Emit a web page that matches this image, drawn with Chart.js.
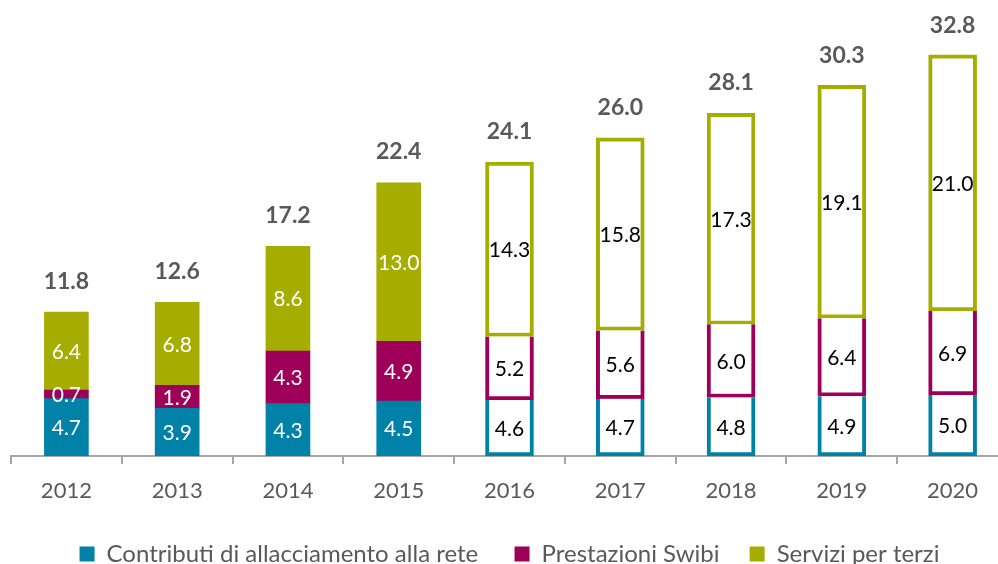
<!DOCTYPE html>
<html>
<head>
<meta charset="utf-8">
<script src="https://cdn.jsdelivr.net/npm/chart.js@4/dist/chart.umd.min.js"></script>
<style>
  html, body { margin: 0; padding: 0; background: #fff; overflow: hidden; }
  #wrap { width: 1009px; height: 581px; position: relative; }
</style>
</head>
<body>
<div id="wrap"><canvas id="stackChart"></canvas></div>
<script>
const years = ["2012", "2013", "2014", "2015", "2016", "2017", "2018", "2019", "2020"];
const contributi = [4.7, 3.9, 4.3, 4.5, 4.6, 4.7, 4.8, 4.9, 5.0];
const prestazioni = [0.7, 1.9, 4.3, 4.9, 5.2, 5.6, 6.0, 6.4, 6.9];
const servizi = [6.4, 6.8, 8.6, 13.0, 14.3, 15.8, 17.3, 19.1, 21.0];
const totals = [11.8, 12.6, 17.2, 22.4, 24.1, 26.0, 28.1, 30.3, 32.8];
const firstProjected = 4; // 2016 onwards drawn as outlines

const series = [
  { label: "Contributi di allacciamento alla rete", values: contributi, color: "#0082a8" },
  { label: "Prestazioni Swibi", values: prestazioni, color: "#9e0059" },
  { label: "Servizi per terzi", values: servizi, color: "#a5ad00" },
];

const font = "Lato, 'Open Sans', sans-serif";

const datasets = [];
series.forEach((s) => {
  datasets.push({
    label: s.label,
    data: s.values.map((v, j) => (j < firstProjected ? v : null)),
    backgroundColor: s.color,
    borderWidth: 0,
    barThickness: 44,
    labelColor: "#ffffff",
  });
});
series.forEach((s, i) => {
  datasets.push({
    label: s.label + " (outline)",
    data: s.values.map((v, j) => (j >= firstProjected ? v : null)),
    backgroundColor: "#ffffff",
    borderColor: s.color,
    borderWidth: i === 2 ? 4 : { left: 4, right: 4, bottom: 4, top: 0 },
    borderSkipped: false,
    barThickness: 48,
    labelColor: "#000000",
  });
});

const valueLabels = {
  id: "valueLabels",
  afterDatasetsDraw(chart) {
    const ctx = chart.ctx;
    ctx.save();
    ctx.textAlign = "center";
    ctx.textBaseline = "middle";
    ctx.font = "21px " + font;
    chart.data.datasets.forEach((ds, di) => {
      const meta = chart.getDatasetMeta(di);
      meta.data.forEach((bar, j) => {
        if (ds.data[j] == null) return;
        ctx.fillStyle = ds.labelColor;
        ctx.fillText(ds.data[j].toFixed(1), bar.x, (bar.y + bar.base) / 2 + 1);
      });
    });
    // totals above each stack
    const y = chart.scales.y;
    const x = chart.scales.x;
    ctx.font = "bold 23px " + font;
    ctx.fillStyle = "#595959";
    totals.forEach((t, j) => {
      ctx.fillText(t.toFixed(1), x.getPixelForValue(j), y.getPixelForValue(t) - 31);
    });
    ctx.restore();
  },
};

new Chart(document.getElementById("stackChart"), {
  type: "bar",
  data: { labels: years, datasets: datasets },
  options: {
    responsive: true,
    maintainAspectRatio: false,
    animation: false,
    layout: { padding: { left: 11, right: 1, top: 0, bottom: 5 } },
    plugins: {
      tooltip: { enabled: false },
      legend: {
        position: "bottom",
        labels: {
          font: { family: font, size: 24 },
          color: "#595959",
          boxWidth: 15,
          boxHeight: 15,
          padding: 24,
          generateLabels(chart) {
            const items = Chart.defaults.plugins.legend.labels.generateLabels(chart)
              .filter((item) => item.datasetIndex < 3);
            // a little more room after the first two entries
            if (items[0]) items[0].text += "\u00a0\u00a0";
            if (items[1]) items[1].text += "\u00a0";
            return items;
          },
        },
      },
    },
    scales: {
      x: {
        stacked: true,
        grid: {
          display: true,
          drawOnChartArea: false,
          drawTicks: true,
          tickLength: 8,
          color: "#a6a6a6",
          lineWidth: 2,
          offset: true,
        },
        border: { display: true, color: "#a6a6a6", width: 2 },
        ticks: {
          font: { family: font, size: 22, lineHeight: 0 },
          color: "#595959",
          padding: 27,
        },
      },
      y: {
        stacked: true,
        display: false,
        min: 0,
        max: 37.4,
      },
    },
  },
  plugins: [valueLabels],
});
</script>
</body>
</html>
